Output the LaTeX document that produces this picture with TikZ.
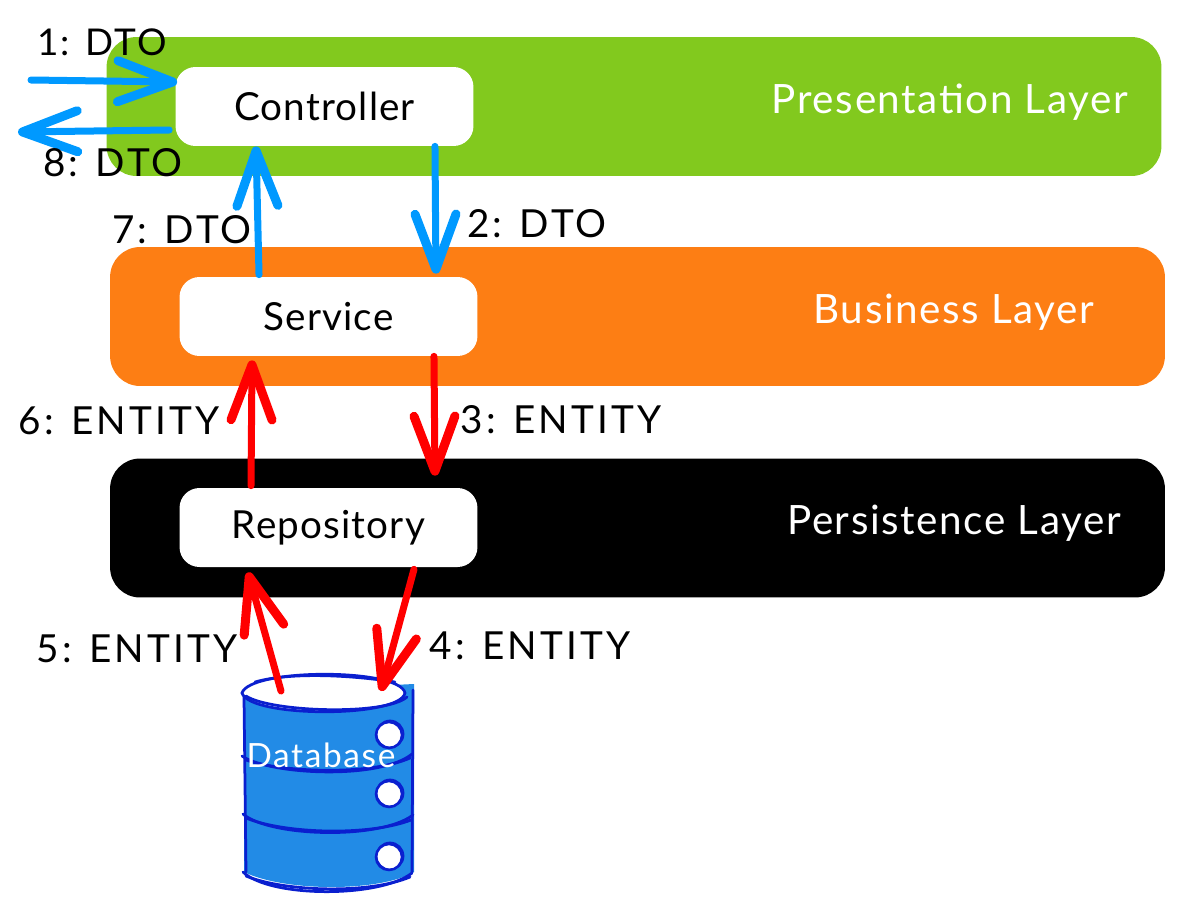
\documentclass[tikz,border=0pt]{standalone}
\usepackage{fontspec}
\setmainfont{Lato}
\usetikzlibrary{positioning,calc,arrows.meta}
\definecolor{layergreen}{HTML}{82C91E}
\definecolor{layerorange}{HTML}{FD7E14}
\definecolor{dtoblue}{HTML}{0099FF}
\definecolor{dbfill}{HTML}{228BE6}
\definecolor{dbline}{HTML}{0A1FCF}
\tikzset{
    layerbox/.style={rounded corners=0.6cm,minimum width=21.1cm,minimum height=2.78cm,inner sep=0},
    compbox/.style={fill=white,rounded corners=0.4cm,minimum width=5.96cm,minimum height=1.58cm,inner sep=0,font=\fontsize{22}{24}\selectfont\addfontfeature{LetterSpace=3}},
    layerlabel/.style={white,font=\fontsize{23}{26}\selectfont\addfontfeature{LetterSpace=4}},
    flowlabel/.style={font=\fontsize{22}{24}\selectfont\addfontfeature{LetterSpace=8}},
    flowline/.style={line width=0.14cm,line cap=round,-{Straight Barb[length=1.1cm,width=0.82cm,line width=0.18cm,round]}},
    dtoflow/.style={flowline,dtoblue},
    entityflow/.style={flowline,red},
    dbstroke/.style={dbline,line width=0.055cm,line cap=round},
    dbhole/.style={circle,draw=dbline,fill=white,line width=0.05cm,minimum size=0.52cm,inner sep=0}
}
\begin{document}
\begin{tikzpicture}[x=0.02cm,y=-0.02cm]
    \useasboundingbox (0,0) rectangle (1180,910);
    \node[layerbox,fill=layergreen] (presentation) at (634,106.5) {};
    \node[layerbox,fill=layerorange] (business) at (637.5,316.5) {};
    \node[layerbox,fill=black] (persistence) at (637.5,528) {};
    \node[layerlabel] (presentationlabel) at (950,102) {Presentation Layer};
    \node[layerlabel] (businesslabel) at (954,312) {Business Layer};
    \node[layerlabel] (persistencelabel) at (954,523) {Persistence Layer};
    \node[compbox] (controller) at (324.5,106.5) {Controller};
    \node[compbox] (service) at (328.5,316.5) {Service};
    \node[compbox] (repository) at (328.5,527.5) {Repository};

    \fill[dbfill] (244,692) -- (414,684) -- (414,872) .. controls (380,892) and (285,892) .. (244,872) -- cycle;
    \fill[white] (242,693) .. controls (250,668) and (400,668) .. (405,693) .. controls (400,718) and (250,718) .. (242,693) -- cycle;
    \draw[dbstroke] (242,693) .. controls (250,668) and (400,668) .. (405,693) .. controls (400,718) and (250,718) .. (242,693) -- cycle;
    \draw[dbstroke] (246,696) .. controls (270,712) and (385,716) .. (407,697);
    \draw[dbstroke] (255,682) .. controls (290,672) and (350,675) .. (395,682);
    \draw[dbstroke] (244,697) -- (246,872);
    \draw[dbstroke] (413,690) -- (412,872);
    \draw[dbstroke] (242,756) .. controls (270,775) and (380,780) .. (412,754);
    \draw[dbstroke] (246,760) .. controls (280,772) and (370,776) .. (410,758);
    \draw[dbstroke] (243,814) .. controls (270,837) and (380,840) .. (413,815);
    \draw[dbstroke] (246,818) .. controls (285,834) and (370,836) .. (411,820);
    \draw[dbstroke] (243,872) .. controls (270,898) and (380,898) .. (412,873);
    \draw[dbstroke] (246,876) .. controls (285,892) and (370,894) .. (410,877);
    \node[dbhole] (hole1) at (389,735) {};
    \node[dbhole] (hole2) at (389,794) {};
    \node[dbhole] (hole3) at (389,857) {};
    \foreach \hole in {hole1,hole2,hole3}
        \draw[dbstroke,line width=0.035cm] ([xshift=0.02cm,yshift=0.02cm]\hole) circle (0.27cm);
    \node[white,font=\fontsize{19}{22}\selectfont\addfontfeature{LetterSpace=5}] (database) at (321,755) {Database};

    \coordinate (clientin) at (31,80);
    \coordinate (clientout) at (18,132);
    \coordinate (dbtop) at (330,691);

    \draw[dtoflow] (clientin) -- ([yshift=0.49cm,xshift=0.04cm]controller.west);
    \draw[dtoflow] ([yshift=-0.47cm,xshift=-0.12cm]controller.west) -- (clientout);
    \draw[dtoflow] ([xshift=2.21cm]controller.south) -- ([xshift=2.15cm,yshift=0.06cm]service.north);
    \draw[dtoflow] ([xshift=-1.39cm,yshift=0.04cm]service.north) -- ([xshift=-1.37cm]controller.south);
    \draw[entityflow] ([xshift=2.11cm]service.south) -- ([xshift=2.13cm,yshift=0.24cm]repository.north);
    \draw[entityflow] ([xshift=-1.55cm,yshift=0.04cm]repository.north) -- ([xshift=-1.53cm,yshift=-0.08cm]service.south);
    \draw[entityflow] ([xshift=1.71cm,yshift=-0.04cm]repository.south) -- ([xshift=1.02cm]dbtop);
    \draw[entityflow] ([xshift=-0.98cm]dbtop) -- ([xshift=-1.61cm,yshift=-0.1cm]repository.south);

    \node[flowlabel,font=\fontsize{21}{24}\selectfont\addfontfeature{LetterSpace=6}] (label1) at (102,42) {1: DTO};
    \node[flowlabel] (label2) at (537,224) {2: DTO};
    \node[flowlabel] (label3) at (561,420) {3: ENTITY};
    \node[flowlabel] (label4) at (530,646) {4: ENTITY};
    \node[flowlabel] (label5) at (137,649) {5: ENTITY};
    \node[flowlabel] (label6) at (119,421) {6: ENTITY};
    \node[flowlabel] (label7) at (182,230) {7: DTO};
    \node[flowlabel] (label8) at (113,163) {8: DTO};
\end{tikzpicture}
\end{document}
